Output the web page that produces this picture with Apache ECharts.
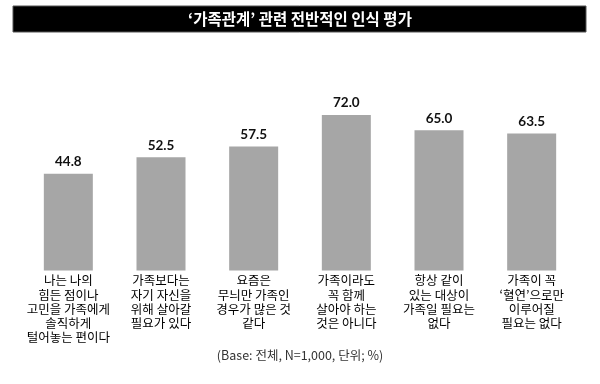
<!DOCTYPE html>
<html>
<head>
<meta charset="utf-8">
<script src="https://cdn.jsdelivr.net/npm/echarts@6/dist/echarts.min.js"></script>
<style>
html,body{margin:0;padding:0;background:#fff;}
#chart{width:600px;height:384px;}
</style>
</head>
<body>
<div id="chart"></div>
<script>
var titleText = "‘가족관계’ 관련 전반적인 인식 평가";
var footnote = "(Base: 전체, N=1,000, 단위; %)";
var categories = [
  "나는 나의\n힘든 점이나\n고민을 가족에게\n솔직하게\n털어놓는 편이다",
  "가족보다는\n자기 자신을\n위해 살아갈\n필요가 있다",
  "요즘은\n무늬만 가족인\n경우가 많은 것\n같다",
  "가족이라도\n꼭 함께\n살아야 하는\n것은 아니다",
  "항상 같이\n있는 대상이\n가족일 필요는\n없다",
  "가족이 꼭\n‘혈연’으로만\n이루어질\n필요는 없다"
];
var values = [44.8, 52.5, 57.5, 72.0, 65.0, 63.5];

var chart = echarts.init(document.getElementById('chart'), null, {renderer: 'canvas'});
chart.setOption({
  animation: false,
  backgroundColor: '#ffffff',
  grid: {left: 22, right: 22, top: 54.7, bottom: 113.5, containLabel: false},
  xAxis: {
    type: 'category',
    data: categories,
    axisLine: {show: false},
    axisTick: {show: false},
    axisLabel: {
      interval: 0,
      margin: 3,
      color: '#000',
      fontSize: 12.5,
      lineHeight: 14.2,
      fontFamily: '"Noto Sans CJK KR", sans-serif',
      verticalAlign: 'top'
    }
  },
  yAxis: {
    type: 'value',
    min: 0,
    max: 100,
    show: false,
    splitLine: {show: false}
  },
  series: [{
    type: 'bar',
    data: values,
    barWidth: 49,
    itemStyle: {color: '#a6a6a6'},
    label: {
      show: true,
      position: 'top',
      distance: 5,
      color: '#111',
      fontSize: 13.5,
      fontWeight: 'bold',
      fontFamily: 'Lato, "Open Sans", sans-serif',
      formatter: function (p) { return p.value.toFixed(1); }
    }
  }],
  graphic: [
    {
      type: 'rect',
      shape: {x: 13, y: 6, width: 573, height: 26},
      style: {fill: '#000', stroke: '#555', lineWidth: 1}
    },
    {
      type: 'text',
      x: 300, y: 19.5,
      style: {
        text: titleText,
        fill: '#fff',
        fontSize: 15.5,
        fontWeight: 'bold',
        fontFamily: '"Noto Sans CJK KR", sans-serif',
        align: 'center',
        verticalAlign: 'middle'
      }
    },
    {
      type: 'text',
      x: 300, y: 355,
      style: {
        text: footnote,
        fill: '#333',
        fontSize: 12.5,
        fontFamily: '"Noto Sans CJK KR", sans-serif',
        align: 'center',
        verticalAlign: 'middle'
      }
    }
  ]
});
</script>
</body>
</html>
